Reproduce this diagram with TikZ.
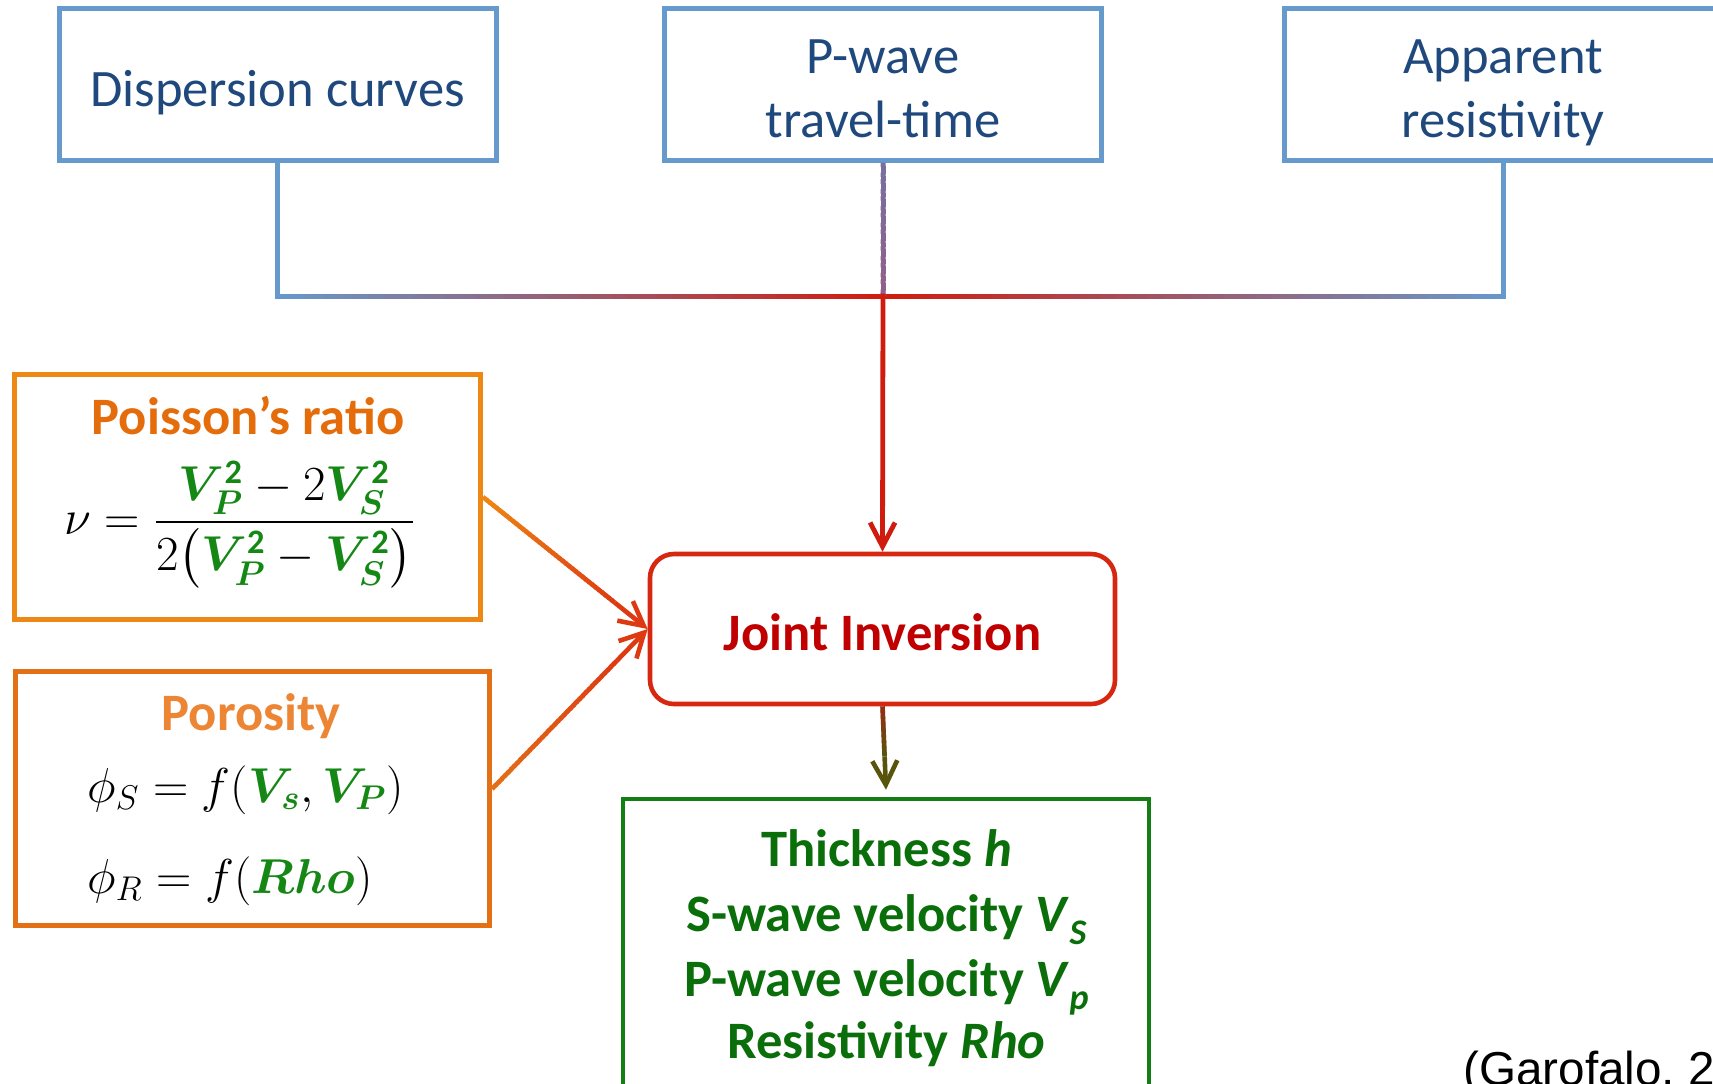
\RequirePackage{fix-cm}
\documentclass[tikz,border=0pt]{standalone}
\usepackage{amsmath,bm}
\usepackage{fontspec}
\setmainfont{Carlito}
\newfontfamily\arialfont{Liberation Sans}
\usetikzlibrary{arrows.meta,calc}

\definecolor{tblue}{RGB}{31,73,125}
\definecolor{bblue}{RGB}{102,153,204}
\definecolor{cred}{RGB}{208,28,14}
\definecolor{jred}{RGB}{192,0,0}
\definecolor{jborder}{RGB}{214,40,16}
\definecolor{poisB}{RGB}{238,136,20}
\definecolor{poisT}{RGB}{228,108,10}
\definecolor{poroB}{RGB}{228,112,22}
\definecolor{poroT}{RGB}{236,134,52}
\definecolor{ggreen}{RGB}{10,110,10}
\definecolor{gborder}{RGB}{20,125,20}
\definecolor{fgreen}{RGB}{20,135,20}
\definecolor{purpA}{RGB}{120,112,160}
\definecolor{purpB}{RGB}{145,96,135}
\definecolor{brn}{RGB}{150,45,20}
\definecolor{olv}{RGB}{88,84,12}
\definecolor{ored}{RGB}{222,58,18}

\newcommand\grVV[1]{\textcolor{fgreen}{\bm{V}^{\mathbf{2}}_{\bm{#1}}}}
\newcommand\subsc[1]{\raisebox{-6.5pt}{\fontsize{18}{18}\selectfont\textit{#1}}}

\newcommand\gradln[5]{%
  \foreach \gi in {1,...,40}{%
    \pgfmathsetmacro\gta{(\gi-1)/40}%
    \pgfmathsetmacro\gtb{min(1,(\gi+0.4)/40)}%
    \pgfmathsetmacro\gpc{100-100*(\gi-0.5)/40}%
    \draw[line width=#5,color=#3!\gpc!#4] ($(#1)!\gta!(#2)$) -- ($(#1)!\gtb!(#2)$);
  }%
}

\tikzset{
  bbox/.style={draw=bblue, line width=2.5pt, minimum width=218.5pt, minimum height=75.75pt, inner sep=0pt},
  ttext/.style={text=tblue, font=\fontsize{26.3}{31}\selectfont, inner sep=0pt, anchor=base},
  obox/.style={line width=2.5pt, inner sep=0pt},
  otitle/.style={font=\bfseries\fontsize{26.3}{31}\selectfont, inner sep=0pt, anchor=base},
  mtext/.style={font=\fontsize{24.5}{30}\selectfont, inner sep=0pt, anchor=base west},
  gtext/.style={text=ggreen, font=\bfseries\fontsize{26.3}{31}\selectfont, inner sep=0pt, anchor=base},
  arr/.style={-{Straight Barb[length=12pt,width=12.5pt]}, line width=2.3pt},
}

\begin{document}
\begin{tikzpicture}[x=0.5pt,y=-0.5pt]
\useasboundingbox (0,0) rectangle (1713,1083);

% top boxes
\node[bbox] (disp) at (277.5,84.25) {};
\node[bbox] (pw) at (883,84.25) {};
\node[bbox] (app) at (1503,84.25) {};
\node[ttext] (dispT) at (277.5,106) {Dispersion curves};
\node[ttext] (pwT1) at (883,73) {P-wave};
\node[ttext] (pwT2) at (883,137) {travel-time};
\node[ttext] (appT1) at (1503,73) {Apparent};
\node[ttext] (appT2) at (1503,137) {resistivity};

% left boxes
\node[obox, draw=poisB, minimum width=233pt, minimum height=122.5pt] (pois) at (247.5,497) {};
\node[otitle, text=poisT] (poisT) at (248,434) {Poisson’s ratio};
\node[mtext] (nu) at (64,534) {$\displaystyle \nu = \frac{\grVV{P} - 2\grVV{S}}{2\bigl(\grVV{P} - \grVV{S}\bigr)}$};

\node[obox, draw=poroB, minimum width=237pt, minimum height=127pt] (poro) at (252.5,798.5) {};
\node[otitle, text=poroT] (poroT) at (251,730) {Porosity};
\node[mtext] (phis) at (87,802) {$\phi_S = f(\textcolor{fgreen}{\bm{V}_{\bm{s}}},\textcolor{fgreen}{\bm{V}_{\bm{P}}})$};
\node[mtext] (phir) at (87,893) {$\phi_R = f(\textcolor{fgreen}{\bm{Rho}})$};

% joint inversion
\node[draw=jborder, line width=2.3pt, rounded corners=12pt, minimum width=232.5pt, minimum height=75pt, inner sep=0pt] (joint) at (882.5,629) {};
\node[otitle, text=jred] (jointT) at (882.5,650) {Joint Inversion};

% results
\node[draw=gborder, line width=2.3pt, minimum width=263pt, minimum height=148pt, inner sep=0pt] (green) at (886,947) {};
\node[gtext] (g1) at (886.5,866.5) {Thickness \textit{h}};
\node[gtext] (g2) at (886.5,931) {S-wave velocity \textit{V}\subsc{S}};
\node[gtext] (g3) at (886.5,996) {P-wave velocity \textit{V}\subsc{p}};
\node[gtext] (g4) at (886.5,1058.5) {Resistivity \textit{Rho}};

\node[font=\arialfont\fontsize{23.8}{28}\selectfont, inner sep=0pt, anchor=base west] (cite) at (1463,1085) {(Garofalo, 2};

% top connectors
\coordinate (hub) at (pw.south |- 0,296);
\coordinate (cl) at (disp.south |- hub);
\coordinate (cr) at (app.south |- hub);
\draw[bblue, line width=2.5pt, line cap=rect] (disp.south) -- (cl);
\draw[bblue, line width=2.5pt, line cap=rect] (app.south) -- (cr);
\gradln{cl}{hub}{bblue}{cred}{2.5pt}
\gradln{cr}{hub}{bblue}{cred}{2.5pt}
\gradln{pw.south}{hub}{purpA}{purpB}{2.5pt}
\draw[arr, cred, line width=2.4pt] ([yshift=1.25pt]hub) -- (joint.north);

% side arrows
\coordinate (pa) at ($(pois.east)!0.8!(joint.west)$);
\gradln{pois.east}{pa}{poisB}{ored}{2.3pt}
\draw[arr, ored] (pa) -- (joint.west);
\coordinate (pb) at ($([yshift=4.75pt]poro.east)!0.8!(joint.west)$);
\gradln{[yshift=4.75pt]poro.east}{pb}{poroB}{ored}{2.3pt}
\draw[arr, ored] (pb) -- (joint.west);

% bottom arrow
\coordinate (jg) at ($(joint.south)!0.6!([yshift=3.5pt]green.north)$);
\gradln{joint.south}{jg}{brn}{olv}{2.3pt}
\draw[arr, olv] (jg) -- ([yshift=3.5pt]green.north);
\end{tikzpicture}
\end{document}
